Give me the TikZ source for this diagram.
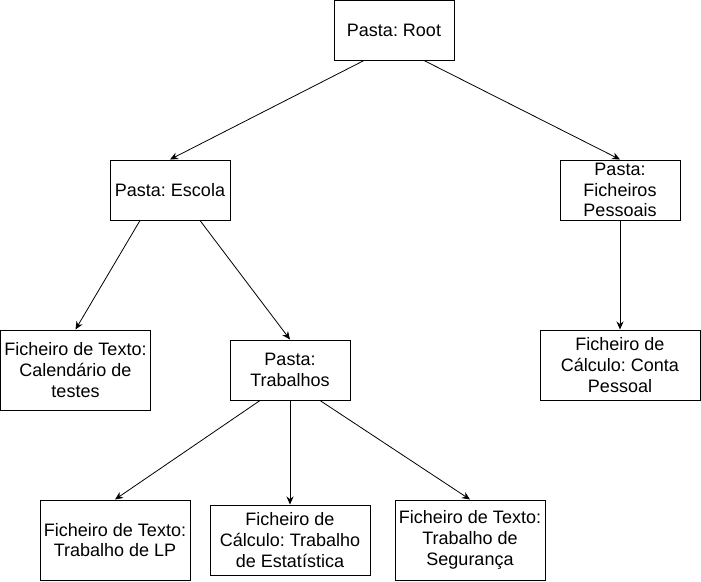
\documentclass[tikz,border=0pt]{standalone}
\usepackage{fontspec}
\setmainfont{Liberation Sans}
\usepackage{tikz}
\usetikzlibrary{shapes,arrows,positioning,calc,arrows.meta}
\frenchspacing

\begin{document}
\begin{tikzpicture}[x=1pt, y=-1pt,
    every node/.style={rectangle, draw, line width=1pt, inner sep=2pt, align=center,
        font=\fontsize{18}{20.7}\selectfont},
    folder/.style={minimum width=120pt, minimum height=60pt},
    file/.style={minimum width=150pt, minimum height=80pt},
    sheet/.style={minimum width=160pt, minimum height=70pt},
    link/.style={draw, line width=0.8pt, -{Stealth[length=8pt, width=7pt]}}]

    \useasboundingbox (0,0) rectangle (701,581);

    \node[folder] (root) at (394,30) {Pasta: Root};
    \node[folder] (escola) at (170,190) {Pasta: Escola};
    \node[folder] (pessoais) at (620,190) {Pasta:\\Ficheiros\\Pessoais};
    \node[file] (calendario) at (75.5,370) {Ficheiro de Texto:\\Calendário de\\testes};
    \node[folder] (trabalhos) at (290,370) {Pasta:\\Trabalhos};
    \node[sheet] (conta) at (620,365) {Ficheiro de\\Cálculo: Conta\\Pessoal};
    \node[file] (lp) at (115,540) {Ficheiro de Texto:\\Trabalho de LP};
    \node[sheet] (estatistica) at (290,540) {Ficheiro de\\Cálculo: Trabalho\\de Estatística};
    \node[file] (seguranca) at (470,540) {Ficheiro de Texto:\\Trabalho de\\Segurança};

    \draw[link] ($(root.south)+(-30,0)$) -- (escola.north);
    \draw[link] ($(root.south)+(30,0)$) -- (pessoais.north);
    \draw[link] ($(escola.south)+(-30,0)$) -- (calendario.north);
    \draw[link] ($(escola.south)+(30,0)$) -- (trabalhos.north);
    \draw[link] (pessoais.south) -- (conta.north);
    \draw[link] ($(trabalhos.south)+(-30,0)$) -- (lp.north);
    \draw[link] (trabalhos.south) -- (estatistica.north);
    \draw[link] ($(trabalhos.south)+(30,0)$) -- (seguranca.north);
\end{tikzpicture}
\end{document}
